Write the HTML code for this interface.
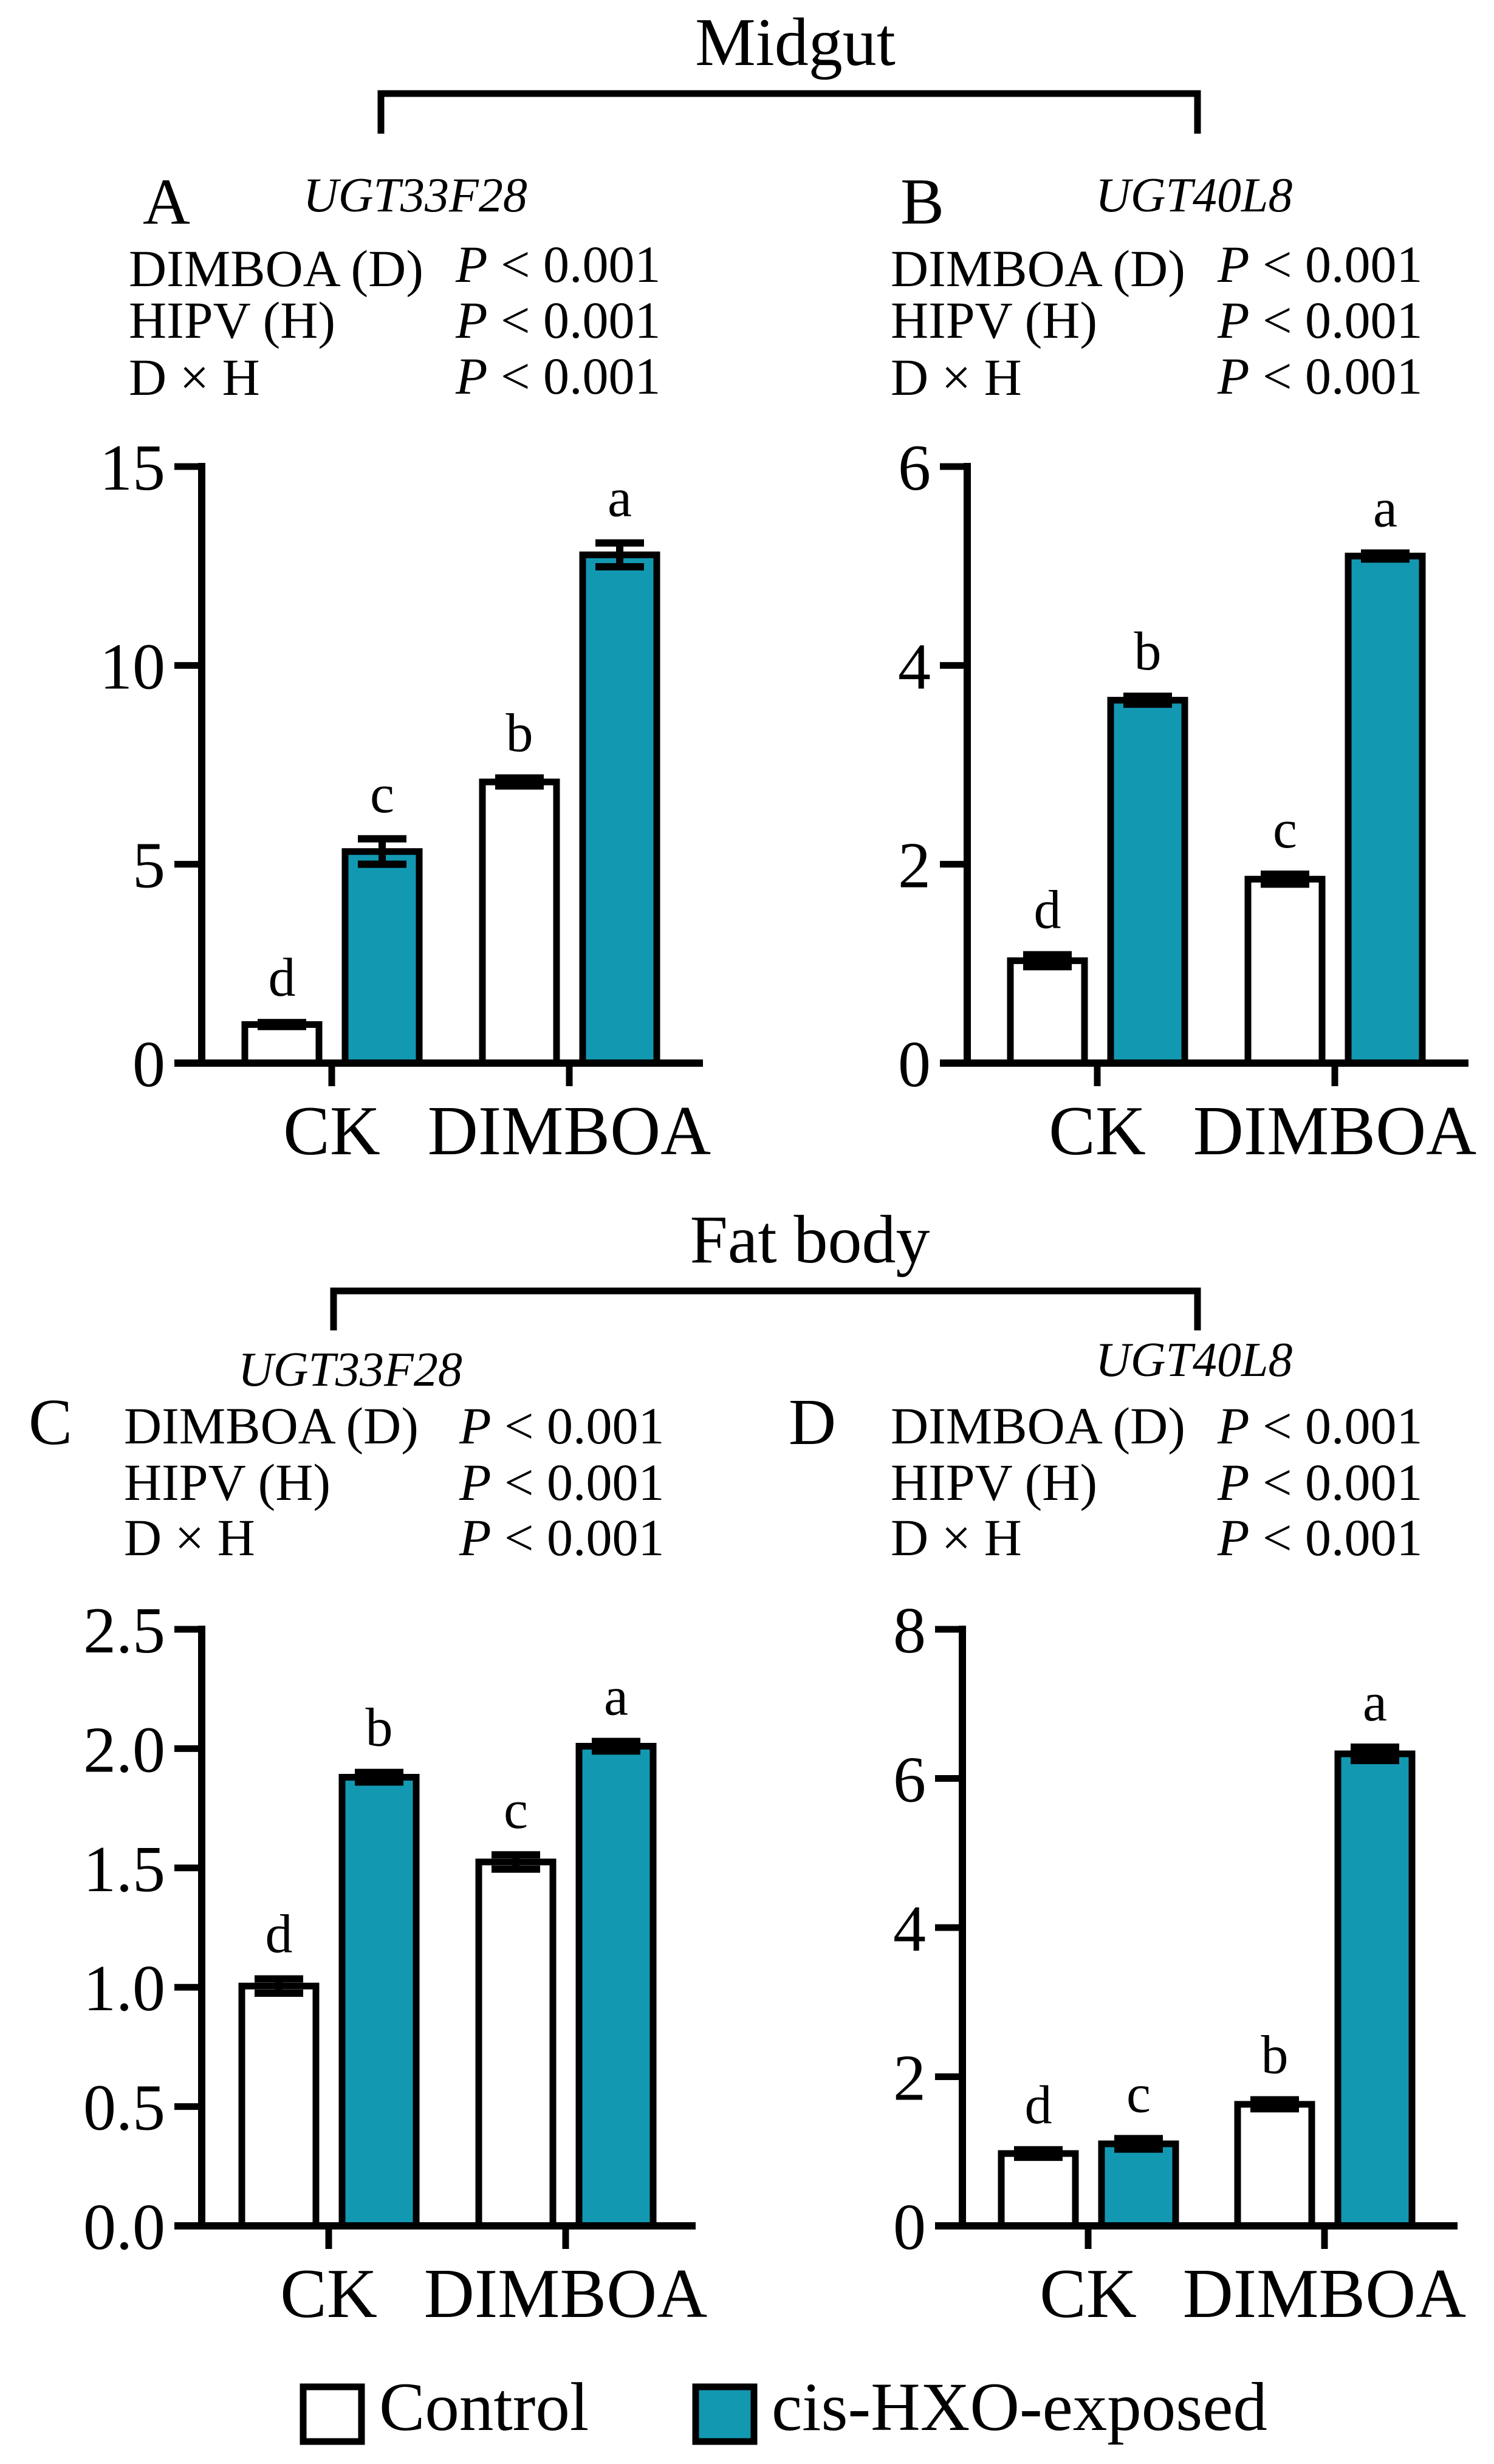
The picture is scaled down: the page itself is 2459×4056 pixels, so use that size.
<!DOCTYPE html>
<html><head><meta charset="utf-8"><style>
html,body{margin:0;padding:0;background:#fff}
svg{display:block}
text{font-family:"Liberation Serif",serif;fill:#000}
</style></head><body>
<svg id="fig" width="2459" height="4056" viewBox="0 0 2459 4056" xmlns="http://www.w3.org/2000/svg">
<g>
<text x="1309" y="107" font-size="112" text-anchor="middle">Midgut</text>
<path d="M627 220 V154 H1971 V220" fill="none" stroke="#000" stroke-width="11"/>
</g>
<g>
<text x="1333" y="2078" font-size="112" text-anchor="middle">Fat body</text>
<path d="M549 2190 V2125 H1971 V2190" fill="none" stroke="#000" stroke-width="11"/>
</g>
<g id="panels"></g>
<g>
<rect x="499" y="3929" width="96" height="90" fill="#fff" stroke="#000" stroke-width="11"/>
<text x="624" y="4000" font-size="113">Control</text>
<rect x="1145" y="3929" width="96" height="90" fill="#1398b2" stroke="#000" stroke-width="11"/>
<text x="1270" y="4000" font-size="113">cis-HXO-exposed</text>
</g>
</svg>
<script>
// Data
const categories = ["CK", "DIMBOA"];
const seriesNames = ["Control", "cis-HXO-exposed"];
const valuesA = [0.97, 5.32, 7.07, 12.78];
const errorsA = [0.05, 0.32, 0.1, 0.3];
const lettersA = ["d", "c", "b", "a"];
const ticksA = ["0", "5", "10", "15"];
const valuesB = [1.03, 3.65, 1.85, 5.1];
const errorsB = [0.06, 0.04, 0.05, 0.03];
const lettersB = ["d", "b", "c", "a"];
const ticksB = ["0", "2", "4", "6"];
const valuesC = [1.005, 1.88, 1.525, 2.01];
const errorsC = [0.03, 0.02, 0.03, 0.02];
const lettersC = ["d", "b", "c", "a"];
const ticksC = ["0.0", "0.5", "1.0", "1.5", "2.0", "2.5"];
const valuesD = [0.97, 1.1, 1.63, 6.33];
const errorsD = [0.05, 0.07, 0.06, 0.09];
const lettersD = ["d", "c", "b", "a"];
const ticksD = ["0", "2", "4", "6", "8"];

const NS = "http://www.w3.org/2000/svg";
const root = document.getElementById("panels");
function mk(tag, attrs, parent, txt) {
  const e = document.createElementNS(NS, tag);
  for (const k in attrs) e.setAttribute(k, attrs[k]);
  if (txt !== undefined) e.textContent = txt;
  parent.appendChild(e);
  return e;
}
const panels = [
  {id:"a", label:"A", gene:"UGT33F28", vals:valuesA, errs:errorsA, lets:lettersA, ticks:ticksA,
   ax:332, top:768, zero:1750, end:1157, groups:[546,937],
   lx:235, ly:368, gx:499, gy:348, rx:212, px:750, rows:[471,556,650], prow:[464,556,648]},
  {id:"b", label:"B", gene:"UGT40L8", vals:valuesB, errs:errorsB, lets:lettersB, ticks:ticksB,
   ax:1592, top:768, zero:1750, end:2417, groups:[1806,2197],
   lx:1482, ly:368, gx:1803, gy:348, rx:1466, px:2004, rows:[471,556,650], prow:[464,556,648]},
  {id:"c", label:"C", gene:"UGT33F28", vals:valuesC, errs:errorsC, lets:lettersC, ticks:ticksC,
   ax:332, top:2682, zero:3664, end:1145, groups:[541,931],
   lx:47, ly:2377, gx:392, gy:2281, rx:204, px:756, rows:[2376,2469,2560], prow:[2376,2469,2560]},
  {id:"d", label:"D", gene:"UGT40L8", vals:valuesD, errs:errorsD, lets:lettersD, ticks:ticksD,
   ax:1584, top:2682, zero:3664, end:2399, groups:[1791,2180],
   lx:1298, ly:2377, gx:1803, gy:2265, rx:1466, px:2004, rows:[2376,2469,2560], prow:[2376,2469,2560]}
];
const rowLabels = ["DIMBOA (D)", "HIPV (H)", "D \u00d7 H"];
panels.forEach(p => {
  const g = mk("g", {}, root);
  
  
  const maxV = parseFloat(p.ticks[p.ticks.length - 1]);
  const y = v => p.zero - (v / maxV) * (p.zero - p.top);
  const t1 = mk("text", {x:p.lx, y:p.ly, "font-size":108}, g, p.label);
  
  
  const t2 = mk("text", {x:p.gx, y:p.gy, "font-size":80, "font-style":"italic"}, g, p.gene);
  
  
  rowLabels.forEach((r, i) => {
    const a = mk("text", {x:p.rx, y:p.rows[i], "font-size":86}, g, r);
    
    
    const b = mk("text", {x:p.px, y:p.prow[i], "font-size":86}, g);
    
    
    mk("tspan", {"font-style":"italic"}, b, "P");
    mk("tspan", {}, b, " < 0.001");
  });
  const yl = mk("line", {x1:p.ax, y1:p.top - 6, x2:p.ax, y2:p.zero, stroke:"#000", "stroke-width":12}, g);
  
  
  p.ticks.forEach(t => {
    const ty = y(parseFloat(t));
    const tk = mk("line", {x1:p.ax - 45, y1:ty, x2:p.ax, y2:ty, stroke:"#000", "stroke-width":11}, g);
    
    
    const tl = mk("text", {x:p.ax - 60, y:ty + 38, "font-size":108, "text-anchor":"end"}, g, t);
    
    
  });
  const bw = 122;
  p.vals.forEach((v, i) => {
    const gc = p.groups[Math.floor(i / 2)];
    const bx = (i % 2 === 0) ? gc - 143 : gc + 22;
    const r = mk("rect", {x:bx, y:y(v), width:bw, height:p.zero - y(v), fill:(i % 2 ? "#1398b2" : "#fff"), stroke:"#000", "stroke-width":11}, g);
    
    
    const cx = bx + bw / 2;
    const e1 = y(v + p.errs[i]), e0 = y(v - p.errs[i]);
    const eb = mk("path", {d:`M${cx} ${e0} V${e1} M${cx - 40} ${e1} H${cx + 40} M${cx - 40} ${e0} H${cx + 40}`, stroke:"#000", "stroke-width":12, fill:"none"}, g);
    
    
    const lt = mk("text", {x:cx, y:e1 - 44, "font-size":90, "text-anchor":"middle"}, g, p.lets[i]);
    
    
  });
  const xl = mk("line", {x1:p.ax - 45, y1:p.zero, x2:p.end, y2:p.zero, stroke:"#000", "stroke-width":12}, g);
  
  
  categories.forEach((c, k) => {
    const gx = p.groups[k];
    const tk = mk("line", {x1:gx, y1:p.zero, x2:gx, y2:p.zero + 38, stroke:"#000", "stroke-width":11}, g);
    
    
    const tl = mk("text", {x:gx, y:p.zero + 150, "font-size":115, "text-anchor":"middle"}, g, c);
    
    
  });
});
</script>
</body></html>
